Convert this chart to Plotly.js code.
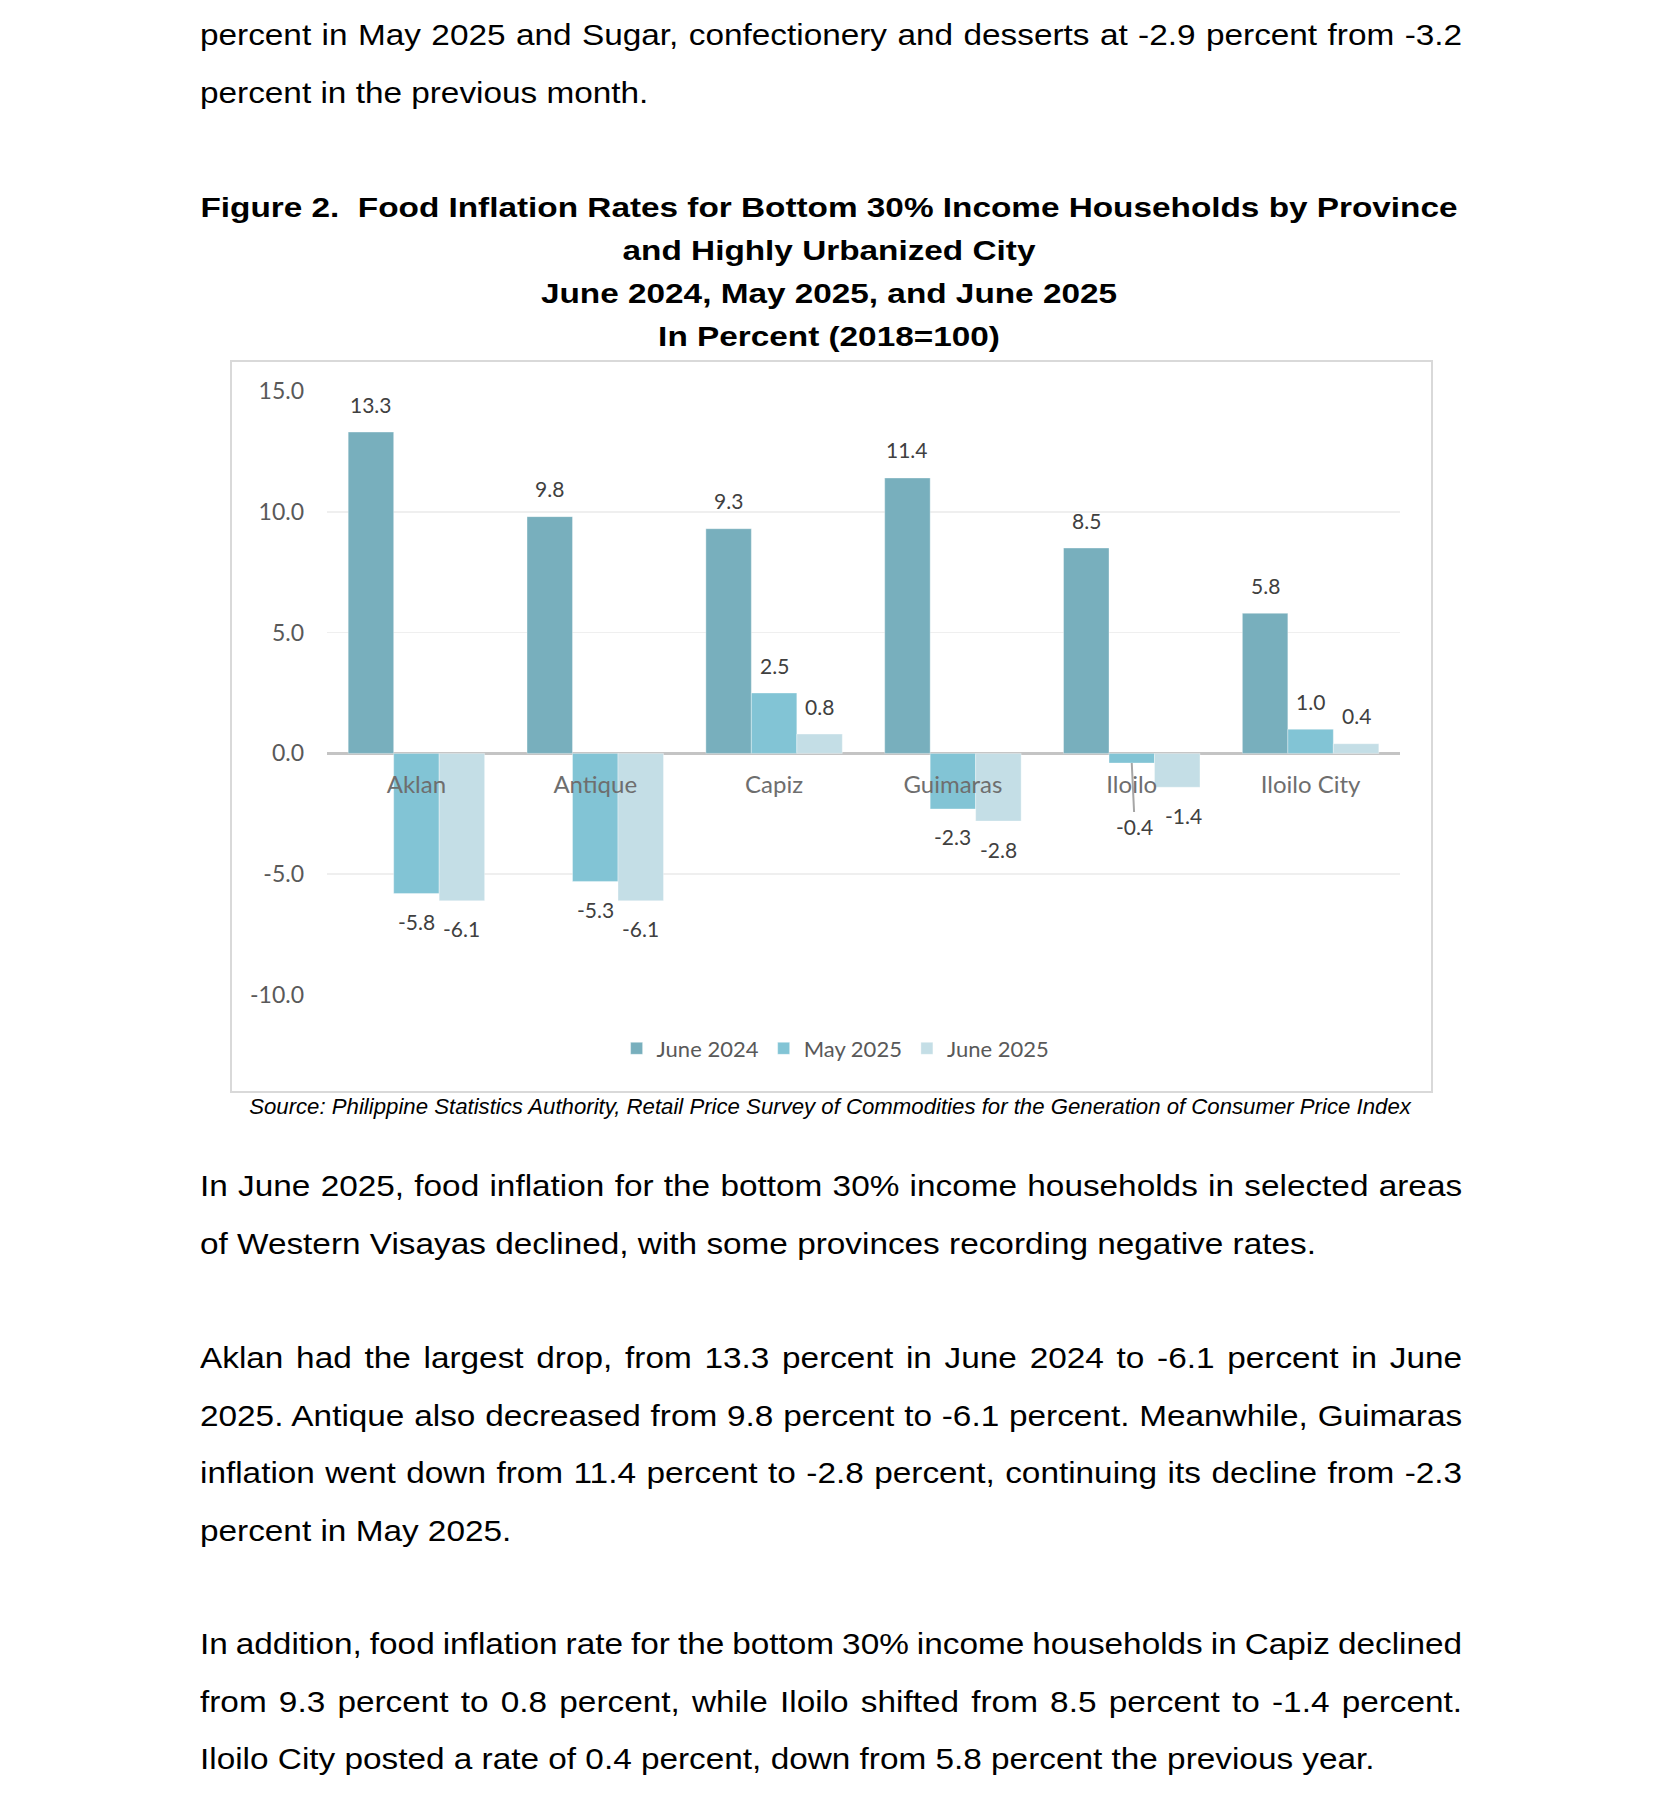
<!DOCTYPE html>
<html>
<head>
<meta charset="utf-8">
<script src="https://cdn.plot.ly/plotly-3.0.1.min.js"></script>
<style>
  html, body { margin: 0; padding: 0; background: #fff; }
  body { width: 1654px; height: 1804px; position: relative; overflow: hidden; }
  .txt { position: absolute; left: 200px; width: 1136px; font-family: "Liberation Sans", Arial, sans-serif; font-size: 30px; color: #000; line-height: 57.5px; transform: scaleX(1.111); transform-origin: 0 0; }
  .ln { height: 57.5px; white-space: nowrap; }
  .ttl { position: absolute; left: 129px; width: 1400px; text-align: center; font-family: "Liberation Sans", Arial, sans-serif; font-weight: bold; font-size: 28px; color: #000; line-height: 43px; transform: scaleX(1.19); transform-origin: 50% 0; }
  .src { position: absolute; left: 0; width: 1660px; text-align: center; font-family: "Liberation Sans", Arial, sans-serif; font-style: italic; font-size: 22.2px; color: #000; }
  #chart { position: absolute; left: 231px; top: 361px; width: 1199px; height: 729px; }
  #frame { position: absolute; left: 230px; top: 360px; width: 1199px; height: 729px; border: 2px solid #d9d9d9; pointer-events: none; }
</style>
</head>
<body>
<div class="txt" style="top:6px">
  <div class="ln j">percent in May 2025 and Sugar, confectionery and desserts at -2.9 percent from -3.2</div>
  <div class="ln">percent in the previous month.</div>
</div>

<div class="ttl" style="top:186px">
  <div>Figure 2.&nbsp; Food Inflation Rates for Bottom 30% Income Households by Province</div>
  <div>and Highly Urbanized City</div>
  <div>June 2024, May 2025, and June 2025</div>
  <div>In Percent (2018=100)</div>
</div>

<div id="chart"></div>
<div id="frame"></div>

<div class="src" style="top:1094px">Source: Philippine Statistics Authority, Retail Price Survey of Commodities for the Generation of Consumer Price Index</div>

<div class="txt" style="top:1157px">
  <div class="ln j">In June 2025, food inflation for the bottom 30% income households in selected areas</div>
  <div class="ln">of Western Visayas declined, with some provinces recording negative rates.</div>
</div>

<div class="txt" style="top:1329px">
  <div class="ln j">Aklan had the largest drop, from 13.3 percent in June 2024 to -6.1 percent in June</div>
  <div class="ln j">2025. Antique also decreased from 9.8 percent to -6.1 percent. Meanwhile, Guimaras</div>
  <div class="ln j">inflation went down from 11.4 percent to -2.8 percent, continuing its decline from -2.3</div>
  <div class="ln">percent in May 2025.</div>
</div>

<div class="txt" style="top:1615px">
  <div class="ln j">In addition, food inflation rate for the bottom 30% income households in Capiz declined</div>
  <div class="ln j">from 9.3 percent to 0.8 percent, while Iloilo shifted from 8.5 percent to -1.4 percent.</div>
  <div class="ln">Iloilo City posted a rate of 0.4 percent, down from 5.8 percent the previous year.</div>
</div>

<script>
// justify full lines by word spacing (keeps each line on one row)
document.querySelectorAll(".ln.j").forEach(el => {
  const target = el.parentElement.clientWidth;
  const span = document.createElement("span");
  span.textContent = el.textContent.trim();
  el.textContent = "";
  el.appendChild(span);
  const natural = span.getBoundingClientRect().width / 1.111;
  const spaces = (span.textContent.match(/ /g) || []).length;
  if (spaces > 0) el.style.wordSpacing = ((target - natural) / spaces) + "px";
});
</script>

<script>
// ---- data ----
const categories = ["Aklan", "Antique", "Capiz", "Guimaras", "Iloilo", "Iloilo City"];
const seriesNames = ["June 2024", "May 2025", "June 2025"];
const june2024 = [13.3, 9.8, 9.3, 11.4, 8.5, 5.8];
const may2025 = [-5.8, -5.3, 2.5, -2.3, -0.4, 1.0];
const june2025 = [-6.1, -6.1, 0.8, -2.8, -1.4, 0.4];
const yTickVals = [-10, -5, 0, 5, 10, 15];
const yTickText = ["-10.0", "-5.0", "0.0", "5.0", "10.0", "15.0"];

// ---- style ----
const colors = ["#78AFBD", "#82C4D5", "#C4DEE6"];
const W = 1199, H = 729;
const M = { l: 96, r: 30, t: 30, b: 95 };
const bargap = 0.237;
const plotW = W - M.l - M.r;
const catW = plotW / categories.length;
const barW = catW * (1 - bargap) / 3;
const series = [june2024, may2025, june2025];

const traces = series.map((vals, i) => ({
  type: "bar",
  name: seriesNames[i],
  x: categories,
  y: vals,
  marker: { color: colors[i], line: { width: 1, color: "rgba(255,255,255,0.35)" } },
  hoverinfo: "skip"
}));

const annotations = [];
series.forEach((vals, i) => {
  vals.forEach((v, k) => {
    const a = {
      x: categories[k], y: v, xref: "x", yref: "y",
      text: v.toFixed(1),
      xshift: (i - 1) * barW,
      font: { family: "Lato, sans-serif", size: 21, color: "#404040" },
      showarrow: false,
      xanchor: "center", yanchor: "middle",
      yshift: v >= 0 ? 28 : -28
    };
    if (categories[k] === "Iloilo" && i === 1) {
      // label moved away with a leader line
      a.showarrow = true; a.arrowhead = 0; a.arrowwidth = 2; a.arrowcolor = "#a6a6a6";
      a.ax = 3; a.ay = 63; a.yshift = 0; a.standoff = 0;
    }
    if (categories[k] === "Iloilo" && i === 2) {
      a.xshift += 6;
    }
    annotations.push(a);
  });
});

const layout = {
  width: W, height: H,
  margin: M,
  paper_bgcolor: "#ffffff", plot_bgcolor: "#ffffff",
  barmode: "group", bargap: bargap, bargroupgap: 0,
  showlegend: true,
  legend: {
    orientation: "h", x: 0.474, xanchor: "center", y: -0.0886, yanchor: "middle",
    font: { family: "Lato, sans-serif", size: 22, color: "#595959" },
    traceorder: "normal", itemwidth: 30
  },
  xaxis: {
    type: "category", anchor: "free", position: 0.4,
    showline: false, showgrid: false, zeroline: false, ticks: "",
    tickfont: { family: "Lato, sans-serif", size: 24, color: "#6e6e6e" },
    ticklabelstandoff: 15,
    fixedrange: true
  },
  yaxis: {
    range: [-10, 15], tickvals: yTickVals, ticktext: yTickText,
    showgrid: true, gridcolor: "#efefef", gridwidth: 1.5,
    zeroline: true, zerolinecolor: "#c4c4c4", zerolinewidth: 3,
    showline: false, ticks: "",
    tickfont: { family: "Lato, sans-serif", size: 23, color: "#595959" },
    ticklabelstandoff: 22,
    fixedrange: true
  },
  annotations: annotations
};

Plotly.newPlot("chart", traces, layout, { displayModeBar: false, staticPlot: true });
</script>
</body>
</html>
